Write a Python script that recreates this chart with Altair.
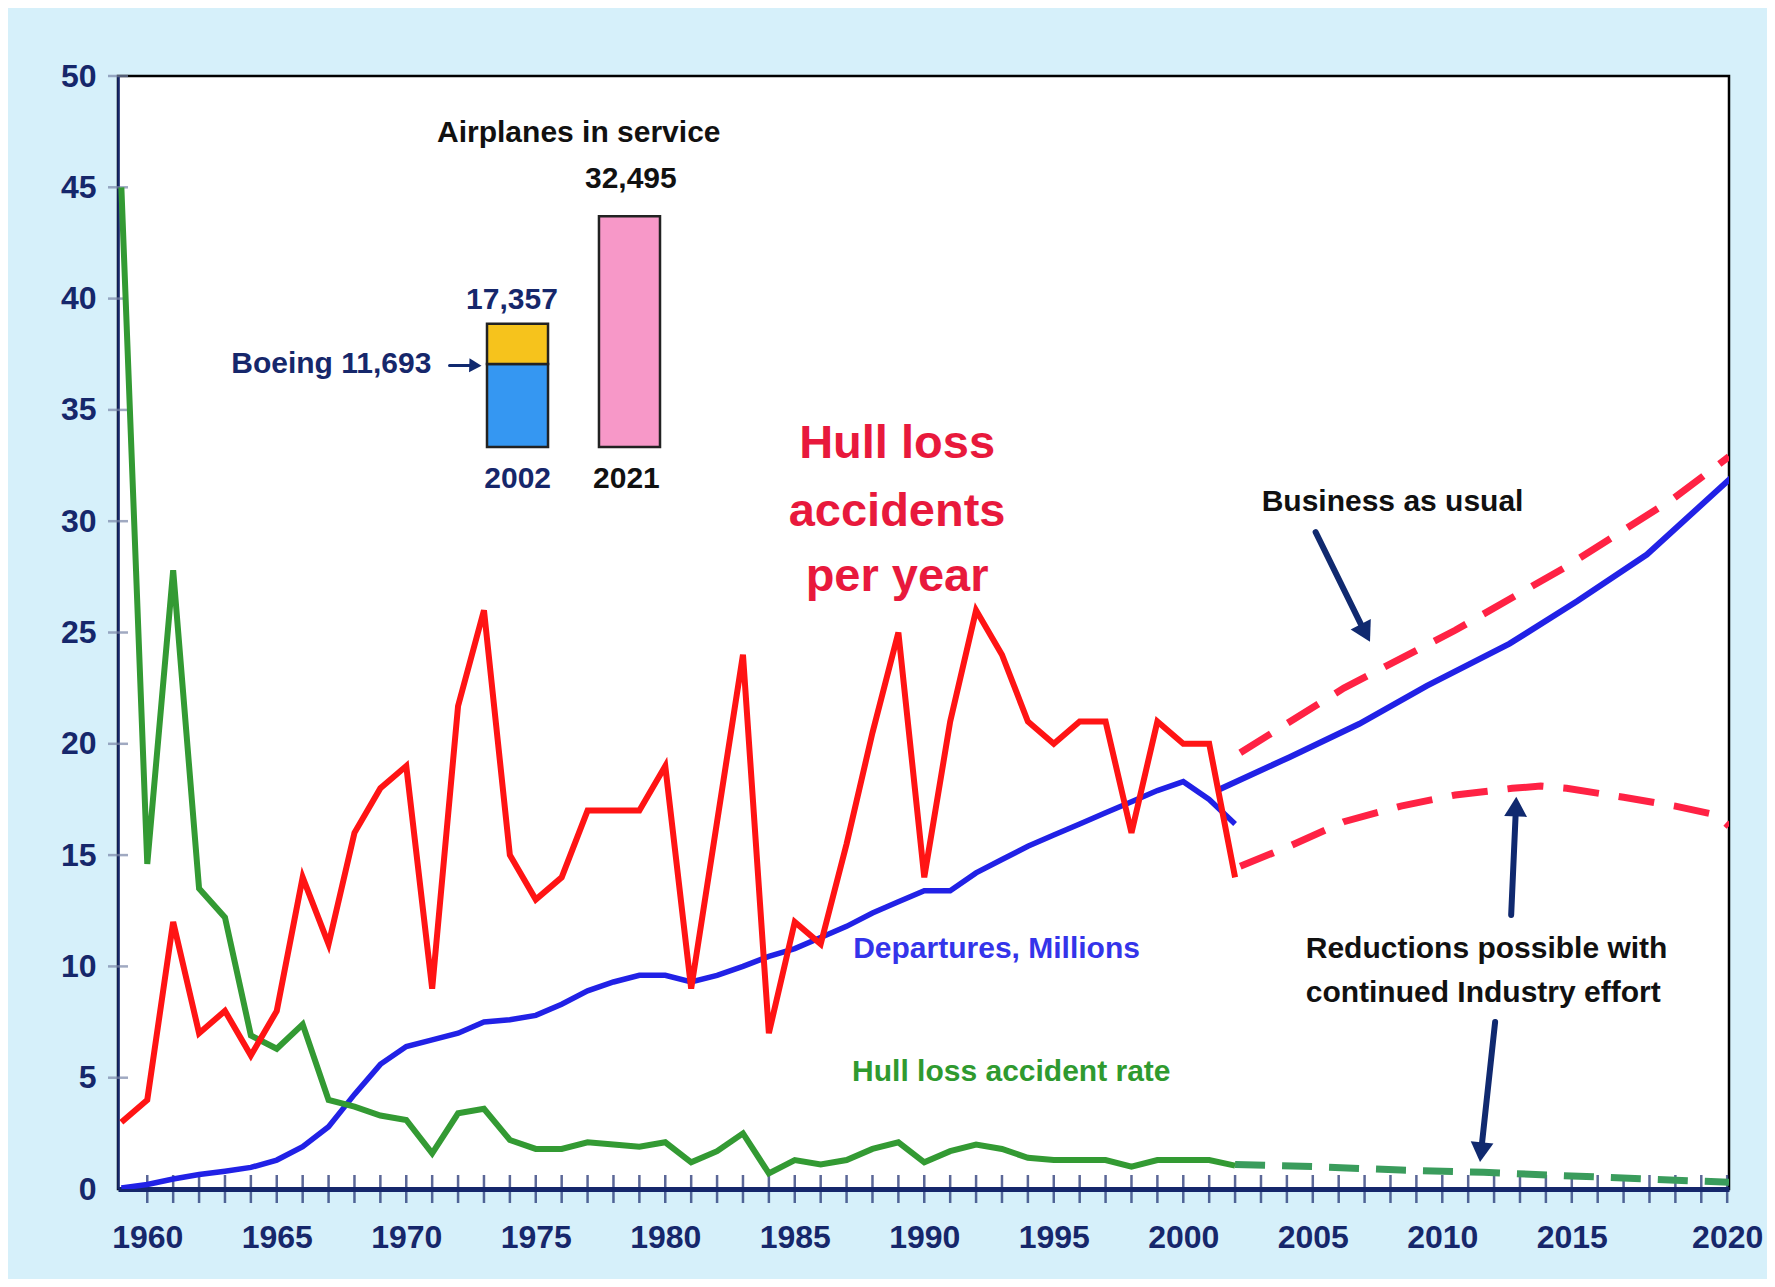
import altair as alt
import pandas as pd

# ---------------- data ----------------
years = list(range(1959, 2003))
accidents = [3, 4, 12, 7, 8, 6, 8, 14, 11, 16, 18, 19, 9, 21.7, 26, 15, 13, 14, 17, 17,
             17, 19, 9, 16.5, 24, 7, 12, 11, 15.5, 20.5, 25, 14, 21, 26, 24, 21, 20, 21,
             21, 16, 21, 20, 20, 14]
rate = [45, 14.6, 27.8, 13.5, 12.2, 6.9, 6.3, 7.4, 4.0, 3.7, 3.3, 3.1, 1.6, 3.4, 3.6, 2.2,
        1.8, 1.8, 2.1, 2.0, 1.9, 2.1, 1.2, 1.7, 2.5, 0.7, 1.3, 1.1, 1.3, 1.8, 2.1, 1.2,
        1.7, 2.0, 1.8, 1.4, 1.3, 1.3, 1.3, 1.0, 1.3, 1.3, 1.3, 1.05]
departures = [0.05, 0.2, 0.45, 0.65, 0.8, 0.97, 1.3, 1.9, 2.8, 4.25, 5.6, 6.4, 6.7, 7.0,
              7.5, 7.6, 7.8, 8.3, 8.9, 9.3, 9.6, 9.6, 9.3, 9.6, 10.0, 10.45, 10.8, 11.3,
              11.8, 12.4, 12.9, 13.4, 13.4, 14.2, 14.8, 15.4, 15.9, 16.4, 16.9, 17.4,
              17.9, 18.3, 17.5, 16.4]

# projections (the last point sits on the tick labelled 2020, at the frame's right edge)
dep_proj_years = [2001.3, 2004.1, 2006.8, 2009.4, 2012.6, 2015.2, 2017.9, 2021.2]
dep_proj = [17.9, 19.4, 20.9, 22.6, 24.5, 26.4, 28.5, 32.0]

bau_years = [2002.2, 2006.2, 2010.5, 2014.7, 2018.9, 2021.07]
bau_acc = [19.6, 22.5, 25.1, 27.9, 31.0, 32.9]

red_years = [2002.2, 2004.1, 2006.2, 2008.4, 2010.5, 2012.7, 2013.8, 2014.8, 2017.0,
             2019.0, 2020.6, 2021.07]
red_acc = [14.5, 15.4, 16.5, 17.2, 17.7, 18.0, 18.1, 18.0, 17.6, 17.2, 16.8, 16.3]

rate_proj_years = [2002, 2005.2, 2008.4, 2011.6, 2014.7, 2017.9, 2021.07]
rate_proj = [1.1, 1.0, 0.85, 0.75, 0.6, 0.45, 0.3]

y_ticks = list(range(0, 51, 5))
x_tick_years = list(range(1960, 2022))
x_label_years = list(range(1960, 2016, 5)) + [2021]

# inset: airplanes in service
inset_cats = ["2002", "2002", "2021"]
inset_segments = ["Boeing", "Other", "All"]
boeing_2002 = 11693
total_2002 = 17357
total_2021 = 32495

# ---------------- styles ----------------
FONT = "Liberation Sans, Arial, sans-serif"
NAVY = "#16276b"
RED = "#ff1414"
RED_D = "#ff2244"
GREEN = "#339a33"
GREEN_D = "#3a9c5c"
BLUE = "#2121e6"
ARROW = "#10296f"

x_scale = alt.Scale(domain=[1958.87, 2021.07], nice=False, zero=False)
y_scale = alt.Scale(domain=[0, 50], nice=False, zero=False)
x_axis = alt.Axis(values=x_label_years, format="d", title=None, grid=False, ticks=False,
                  labelExpr="datum.value > 2020 ? '2020' : datum.label",
                  labelFont=FONT, labelFontSize=32, labelFontWeight="bold", labelColor=NAVY,
                  labelPadding=33, labelFlush=False, labelOverlap=False, labelBound=False,
                  domainColor=NAVY, domainWidth=5)
y_axis = alt.Axis(values=y_ticks, title=None, grid=False, ticks=False,
                  labelFont=FONT, labelFontSize=32, labelFontWeight="bold", labelColor=NAVY,
                  labelPadding=22, labelFlush=False, labelOverlap=False, labelBound=False,
                  domainColor=NAVY, domainWidth=2.5)


def X(field, **kw):
    return alt.X(field, type="quantitative", scale=x_scale, axis=x_axis, **kw)


def Y(field, **kw):
    return alt.Y(field, type="quantitative", scale=y_scale, axis=y_axis, **kw)


def series(xs, ys):
    return pd.DataFrame({"year": xs, "v": ys})


def line(xs, ys, color, width, dash=None):
    kw = dict(color=color, strokeWidth=width, clip=True, strokeCap="butt", strokeJoin="miter")
    if dash:
        kw["strokeDash"] = dash
    return alt.Chart(series(xs, ys)).mark_line(**kw).encode(x=X("year"), y=Y("v"))


layers = []

# custom ticks crossing the axes
layers.append(
    alt.Chart(pd.DataFrame({"year": x_tick_years, "v": [0] * len(x_tick_years)}))
    .mark_tick(orient="vertical", size=28, thickness=2.5, color=NAVY)
    .encode(x=X("year"), y=Y("v"))
)
layers.append(
    alt.Chart(pd.DataFrame({"year": [1958.87] * (len(y_ticks) - 1), "v": y_ticks[1:]}))
    .mark_tick(orient="horizontal", size=20, thickness=2.5, color="#7884a6")
    .encode(x=X("year"), y=Y("v"))
)

# series
layers.append(line(years, departures, BLUE, 5.5))
layers.append(line(dep_proj_years, dep_proj, BLUE, 6))
layers.append(line(rate_proj_years, rate_proj, GREEN_D, 7, [30, 17]))
layers.append(line(years, rate, GREEN, 6))
layers.append(line(bau_years, bau_acc, RED_D, 7, [36, 20]))
layers.append(line(red_years, red_acc, RED_D, 7, [36, 20]))
layers.append(line(years, accidents, RED, 6))

# arrows (shafts + heads)
arrows = pd.DataFrame({
    "x1": [2005.11, 2012.66, 2012.04, 1971.67],
    "y1": [29.51, 12.31, 7.50, 37.0],
    "x2": [2006.97, 2012.84, 2011.51, 1972.59],
    "y2": [25.11, 17.03, 1.80, 37.0],
    "ang": [152, 2, 186, 92],
    "sz": [520, 520, 520, 200],
    "w": [6, 6, 6, 3],
})
for _, r in arrows.iterrows():
    d = pd.DataFrame([r])
    layers.append(
        alt.Chart(d).mark_rule(color=ARROW, strokeWidth=float(r["w"]), strokeCap="round")
        .encode(x=X("x1"), y=Y("y1"), x2="x2:Q", y2="y2:Q")
    )
    layers.append(
        alt.Chart(d).mark_point(shape="triangle", filled=True, color=ARROW, opacity=1,
                                size=float(r["sz"]), angle=float(r["ang"]))
        .encode(x=X("x2"), y=Y("y2"))
    )


# text annotations
def texts(rows, color, size, align="center"):
    df = pd.DataFrame(rows, columns=["t", "year", "v"])
    return alt.Chart(df).mark_text(font=FONT, fontWeight="bold", fontSize=size, color=color,
                                   align=align, baseline="middle").encode(
        x=X("year"), y=Y("v"), text="t:N")


layers.append(texts([["Hull loss", 1988.95, 33.47], ["accidents", 1988.95, 30.42],
                     ["per year", 1988.95, 27.5]], "#e8193c", 47))
layers.append(texts([["Departures, Millions", 1992.79, 10.78]], "#3434ea", 30))
layers.append(texts([["Hull loss accident rate", 1993.36, 5.24]], "#2f9a2f", 30))
layers.append(texts([["Business as usual", 2008.08, 30.87],
                     ["Reductions possible with", 2011.71, 10.78],
                     ["continued Industry effort", 2011.58, 8.80],
                     ["Airplanes in service", 1976.66, 47.46],
                     ["32,495", 1978.67, 45.37],
                     ["2021", 1978.5, 31.89]], "#111111", 30))
layers.append(texts([["17,357", 1974.08, 39.93], ["2002", 1974.3, 31.89]], NAVY, 30))
layers.append(texts([["Boeing 11,693", 1970.97, 37.08]], NAVY, 30, align="right"))

main = alt.layer(*layers)

# inset bars with their own scales
inset_df = pd.DataFrame({
    "cat": inset_cats,
    "seg": inset_segments,
    "lo": [0, boeing_2002, 0],
    "hi": [boeing_2002, total_2002, total_2021],
})
inset = alt.Chart(inset_df).mark_bar(stroke="#222222", strokeWidth=2.5).encode(
    x=alt.X("cat:N", axis=None,
            scale=alt.Scale(domain=["2002", "2021"], range=[369, 542],
                            paddingInner=0.455, paddingOuter=0)),
    y=alt.Y("lo:Q", axis=None, scale=alt.Scale(domain=[0, 40000], range=[371, 87])),
    y2="hi:Q",
    color=alt.Color("seg:N", legend=None,
                    scale=alt.Scale(domain=["Boeing", "Other", "All"],
                                    range=["#3597f2", "#f6c31c", "#f798c8"])),
)

chart = (
    alt.layer(main, inset)
    .resolve_scale(x="independent", y="independent", color="independent")
    .properties(width=1611, height=1113,
                autosize=alt.AutoSizeParams(type="none"),
                padding={"left": 110, "top": 68, "right": 38, "bottom": 90})
    .configure(background="#d6f0fa")
    .configure_view(stroke="#000000", strokeWidth=2.5, fill="white")
)

chart.save("out.html", embed_options={"renderer": "svg", "actions": False})
